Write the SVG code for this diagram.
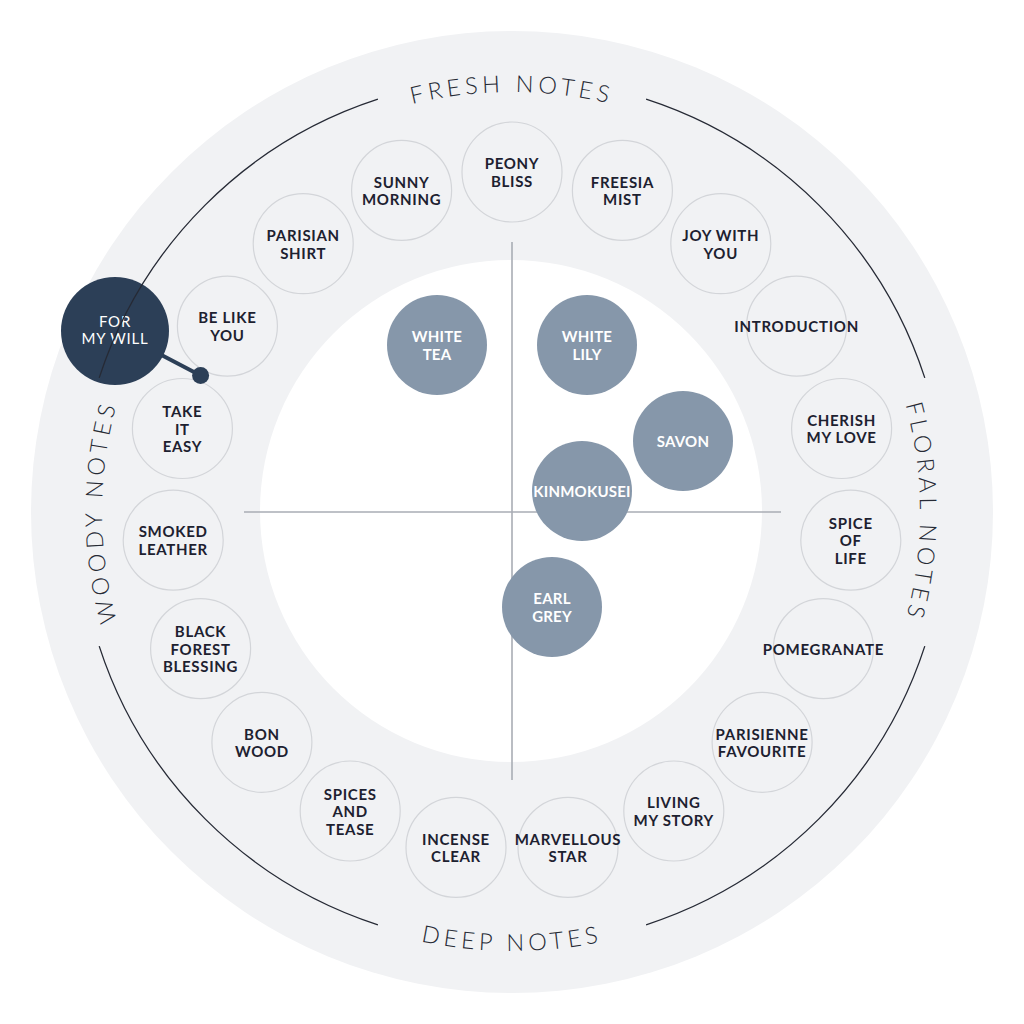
<svg xmlns="http://www.w3.org/2000/svg" width="1024" height="1024" viewBox="0 0 1024 1024">
<defs>
<style>
.disk{fill:#f1f2f4}
.inner{fill:#ffffff}
.axis{stroke:#a9adb4;stroke-width:1.6;fill:none}
.ring{fill:none;stroke:#d3d5d9;stroke-width:1.2}
.t{font-family:Lato,"Liberation Sans",sans-serif;font-weight:700;font-size:15px;letter-spacing:0.7px;fill:#1d2130;text-anchor:middle}
.core{fill:#8697aa}
.tw{font-family:Lato,"Liberation Sans",sans-serif;font-weight:700;font-size:15px;letter-spacing:0.2px;fill:#ffffff;text-anchor:middle}
.sel{fill:#2c3f57}
.tsel{font-family:Lato,"Liberation Sans",sans-serif;font-weight:400;font-size:15px;letter-spacing:0.8px;fill:#ffffff;text-anchor:middle}
.arc{fill:none;stroke:#262a35;stroke-width:1.3}
.lbl{font-family:Lato,"Liberation Sans",sans-serif;font-weight:300;font-size:23.5px;letter-spacing:4.4px;fill:#262a35}
.link{stroke:#2c3f57;stroke-width:4;fill:none;stroke-linecap:round}
</style>
<path id="pTop" d="M 242 190.3 A 420 420 0 0 1 782 190.3"/>
<path id="pLeft" d="M 198 775.5 A 410 410 0 0 1 198 248.5"/>
<path id="pRight" d="M 824.5 249.7 A 408 408 0 0 1 824.5 774.3"/>
<path id="pBottom" d="M 229.8 848.3 A 439 439 0 0 0 794.2 848.3"/>
</defs>

<g id="background">
<circle class="disk" cx="512" cy="512" r="481"/>
<circle class="inner" cx="511" cy="511" r="251"/>
<line class="axis" x1="512" y1="242" x2="512" y2="780"/>
<line class="axis" x1="244" y1="512" x2="781" y2="512"/>
</g>

<g id="core-nodes">
<g id="white-tea"><circle class="core" cx="437" cy="345" r="50"/><text class="tw"><tspan x="437" y="342.3">WHITE</tspan><tspan x="437" y="359.8">TEA</tspan></text></g>
<g id="white-lily"><circle class="core" cx="587" cy="345" r="50"/><text class="tw"><tspan x="587" y="342.3">WHITE</tspan><tspan x="587" y="359.8">LILY</tspan></text></g>
<g id="savon"><circle class="core" cx="683" cy="441" r="50"/><text class="tw" x="683" y="447">SAVON</text></g>
<g id="kinmokusei"><circle class="core" cx="582" cy="491" r="50"/><text class="tw" x="582" y="497">KINMOKUSEI</text></g>
<g id="earl-grey"><circle class="core" cx="552" cy="607" r="50"/><text class="tw"><tspan x="552" y="604.3">EARL</tspan><tspan x="552" y="621.8">GREY</tspan></text></g>
</g>

<g id="ring-nodes">
<g id="peony-bliss"><circle class="ring" cx="512" cy="172" r="50"/><text class="t"><tspan x="512" y="169.3">PEONY</tspan><tspan x="512" y="186.8">BLISS</tspan></text></g>
<g id="freesia-mist"><circle class="ring" cx="622.4" cy="190.4" r="50"/><text class="t"><tspan x="622.4" y="187.7">FREESIA</tspan><tspan x="622.4" y="205.2">MIST</tspan></text></g>
<g id="joy-with-you"><circle class="ring" cx="720.8" cy="243.7" r="50"/><text class="t"><tspan x="720.8" y="241">JOY WITH</tspan><tspan x="720.8" y="258.5">YOU</tspan></text></g>
<g id="introduction"><circle class="ring" cx="796.6" cy="326.1" r="50"/><text class="t" x="796.6" y="332.1">INTRODUCTION</text></g>
<g id="cherish-my-love"><circle class="ring" cx="841.6" cy="428.5" r="50"/><text class="t"><tspan x="841.6" y="425.8">CHERISH</tspan><tspan x="841.6" y="443.3">MY LOVE</tspan></text></g>
<g id="spice-of-life"><circle class="ring" cx="850.8" cy="540.1" r="50"/><text class="t"><tspan x="850.8" y="528.6">SPICE</tspan><tspan x="850.8" y="546.1">OF</tspan><tspan x="850.8" y="563.6">LIFE</tspan></text></g>
<g id="pomegranate"><circle class="ring" cx="823.4" cy="648.6" r="50"/><text class="t" x="823.4" y="654.6">POMEGRANATE</text></g>
<g id="parisienne-favourite"><circle class="ring" cx="762.1" cy="742.3" r="50"/><text class="t"><tspan x="762.1" y="739.6">PARISIENNE</tspan><tspan x="762.1" y="757.1">FAVOURITE</tspan></text></g>
<g id="living-my-story"><circle class="ring" cx="673.8" cy="811" r="50"/><text class="t"><tspan x="673.8" y="808.3">LIVING</tspan><tspan x="673.8" y="825.8">MY STORY</tspan></text></g>
<g id="marvellous-star"><circle class="ring" cx="568" cy="847.4" r="50"/><text class="t"><tspan x="568" y="844.7">MARVELLOUS</tspan><tspan x="568" y="862.2">STAR</tspan></text></g>
<g id="incense-clear"><circle class="ring" cx="456" cy="847.4" r="50"/><text class="t"><tspan x="456" y="844.7">INCENSE</tspan><tspan x="456" y="862.2">CLEAR</tspan></text></g>
<g id="spices-and-tease"><circle class="ring" cx="350.2" cy="811" r="50"/><text class="t"><tspan x="350.2" y="799.5">SPICES</tspan><tspan x="350.2" y="817">AND</tspan><tspan x="350.2" y="834.5">TEASE</tspan></text></g>
<g id="bon-wood"><circle class="ring" cx="261.9" cy="742.3" r="50"/><text class="t"><tspan x="261.9" y="739.6">BON</tspan><tspan x="261.9" y="757.1">WOOD</tspan></text></g>
<g id="black-forest-blessing"><circle class="ring" cx="200.6" cy="648.6" r="50"/><text class="t"><tspan x="200.6" y="637.1">BLACK</tspan><tspan x="200.6" y="654.6">FOREST</tspan><tspan x="200.6" y="672.1">BLESSING</tspan></text></g>
<g id="smoked-leather"><circle class="ring" cx="173.2" cy="540.1" r="50"/><text class="t"><tspan x="173.2" y="537.4">SMOKED</tspan><tspan x="173.2" y="554.9">LEATHER</tspan></text></g>
<g id="take-it-easy"><circle class="ring" cx="182.4" cy="428.5" r="50"/><text class="t"><tspan x="182.4" y="417">TAKE</tspan><tspan x="182.4" y="434.5">IT</tspan><tspan x="182.4" y="452">EASY</tspan></text></g>
<g id="be-like-you"><circle class="ring" cx="227.4" cy="326.1" r="50"/><text class="t"><tspan x="227.4" y="323.4">BE LIKE</tspan><tspan x="227.4" y="340.9">YOU</tspan></text></g>
<g id="parisian-shirt"><circle class="ring" cx="303.2" cy="243.7" r="50"/><text class="t"><tspan x="303.2" y="241">PARISIAN</tspan><tspan x="303.2" y="258.5">SHIRT</tspan></text></g>
<g id="sunny-morning"><circle class="ring" cx="401.6" cy="190.4" r="50"/><text class="t"><tspan x="401.6" y="187.7">SUNNY</tspan><tspan x="401.6" y="205.2">MORNING</tspan></text></g>
</g>

<g id="connectors">
<line class="link" x1="150" y1="349" x2="200.6" y2="375.4"/>
<circle cx="200.6" cy="375.4" r="8.5" fill="#2c3f57"/>
</g>

<g id="for-my-will">
<circle class="sel" cx="115" cy="331" r="54"/>
<text class="tsel"><tspan x="115" y="327">FOR</tspan><tspan x="115" y="344">MY WILL</tspan></text>
</g>

<g id="category-arcs">
<path class="arc" d="M 646.1 99.2 A 434 434 0 0 1 924.8 377.9"/>
<path class="arc" d="M 924.8 646.1 A 434 434 0 0 1 646.1 924.8"/>
<path class="arc" d="M 377.9 924.8 A 434 434 0 0 1 99.2 646.1"/>
<path class="arc" d="M 99.2 377.9 A 434 434 0 0 1 377.9 99.2"/>
</g>

<g id="category-labels">
<text class="lbl"><textPath href="#pTop" startOffset="50%" text-anchor="middle">FRESH NOTES</textPath></text>
<text class="lbl"><textPath href="#pLeft" startOffset="50%" text-anchor="middle">WOODY NOTES</textPath></text>
<text class="lbl"><textPath href="#pRight" startOffset="50%" text-anchor="middle">FLORAL NOTES</textPath></text>
<text class="lbl"><textPath href="#pBottom" startOffset="50%" text-anchor="middle">DEEP NOTES</textPath></text>
</g>
</svg>
